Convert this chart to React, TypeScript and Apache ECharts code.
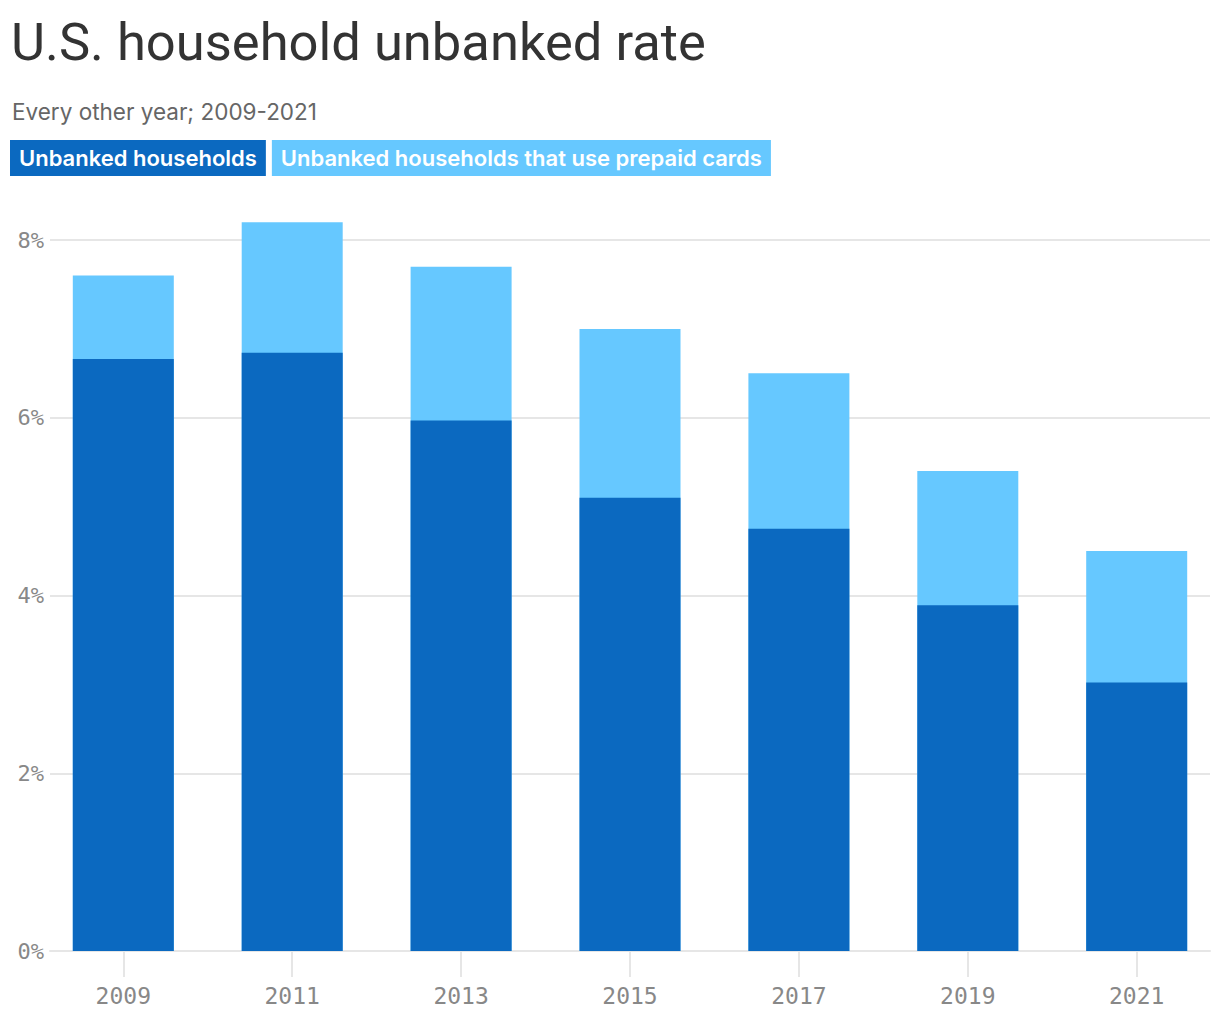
import React, { useEffect, useRef } from "react";
import * as echarts from "echarts";

const years = [2009, 2011, 2013, 2015, 2017, 2019, 2021];
// whole bar: all unbanked households (%)
const unbankedTotal = [7.6, 8.2, 7.7, 7.0, 6.5, 5.4, 4.5];
// lower, dark part of each bar (%)
const unbankedDark = [6.66, 6.73, 5.97, 5.1, 4.75, 3.89, 3.02];
const yTicks = [0, 2, 4, 6, 8];

const DARK = "#0b69c0";
const LIGHT = "#66c8ff";
const GRID = "#e6e6e6";
const MONO = "'DejaVu Sans Mono', 'Liberation Mono', monospace";
const SANS = "Roboto, 'Noto Sans', sans-serif";
const WIDE = "Inter, 'Noto Sans', sans-serif";

const App: React.FC = () => {
  const chartRef = useRef<HTMLDivElement>(null);

  useEffect(() => {
    if (!chartRef.current) return;
    const chart = echarts.init(chartRef.current, undefined, { renderer: "svg" });

    const legendBox = (bg: string) => ({
      backgroundColor: bg,
      color: "#fff",
      fontFamily: WIDE,
      fontSize: 22,
      fontWeight: 600,
      lineHeight: 22,
      padding: [7, 9, 7, 9],
    });

    const option: echarts.EChartsOption = {
      animation: false,
      backgroundColor: "#fff",
      title: [
        {
          text: "U.S. household unbanked rate",
          left: 6,
          top: 10,
          textStyle: { fontFamily: SANS, fontSize: 52.5, fontWeight: 400, color: "#333" },
        },
        {
          text: "Every other year; 2009-2021",
          left: 7,
          top: 95,
          textStyle: { fontFamily: WIDE, fontSize: 22.5, fontWeight: 400, color: "#666" },
        },
        {
          text: "{a|Unbanked households}{gap| }{b|Unbanked households that use prepaid cards}",
          left: 10,
          top: 147,
          padding: 0,
          textStyle: {
            rich: {
              a: legendBox(DARK),
              gap: { fontSize: 6, width: 6 },
              b: legendBox(LIGHT),
            },
          },
        },
      ],
      grid: { left: 50, right: 10, top: 240, bottom: 69 },
      xAxis: {
        type: "value",
        min: 2008.132,
        max: 2021.868,
        splitLine: { show: false },
        axisLine: { show: true, lineStyle: { color: GRID, width: 2 } },
        axisTick: {
          show: true,
          length: 26,
          customValues: years,
          lineStyle: { color: GRID, width: 2 },
        },
        axisLabel: {
          customValues: years,
          fontFamily: MONO,
          fontSize: 23,
          color: "#888",
          margin: 33,
          formatter: (v: number) => String(v),
        },
      },
      yAxis: {
        type: "value",
        min: 0,
        max: 8,
        interval: 2,
        axisLine: { show: false },
        axisTick: { show: false },
        splitLine: { lineStyle: { color: GRID, width: 2 } },
        axisLabel: {
          customValues: yTicks,
          fontFamily: MONO,
          fontSize: 22,
          color: "#888",
          margin: 6,
          formatter: (v: number) => `${v}%`,
        },
      },
      series: [
        {
          name: "Unbanked households that use prepaid cards",
          type: "bar",
          clip: false,
          barWidth: 101,
          barGap: "-100%",
          itemStyle: { color: LIGHT },
          data: years.map((y, i) => [y, unbankedTotal[i]]),
        },
        {
          name: "Unbanked households",
          type: "bar",
          clip: false,
          barWidth: 101,
          barGap: "-100%",
          itemStyle: { color: DARK },
          data: years.map((y, i) => [y, unbankedDark[i]]),
        },
      ],
    };

    chart.setOption(option);
    return () => {
      chart.dispose();
    };
  }, []);

  return (
    <div
      ref={chartRef}
      style={{ position: "fixed", left: 0, top: 0, width: "1220px", height: "1020px" }}
    />
  );
};

export default App;
